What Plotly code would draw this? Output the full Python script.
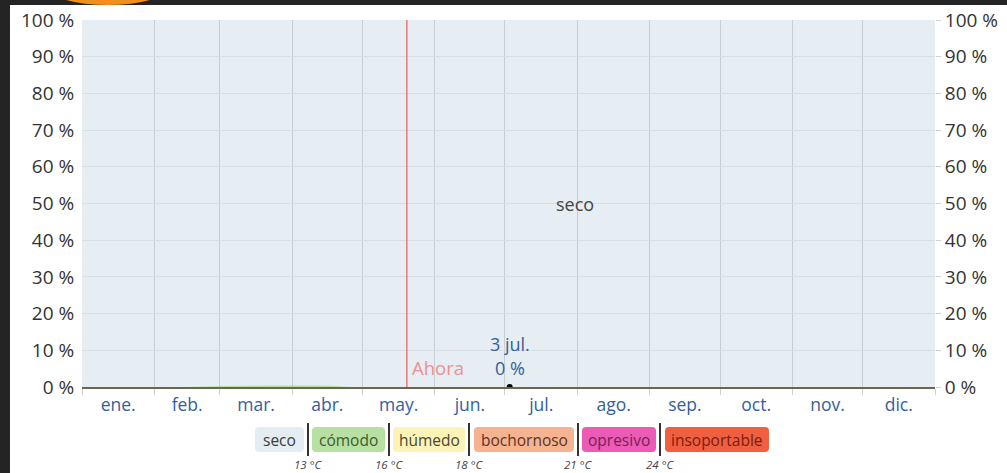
import plotly.graph_objects as go

# ---- data -------------------------------------------------------------
months = ["ene.", "feb.", "mar.", "abr.", "may.", "jun.",
          "jul.", "ago.", "sep.", "oct.", "nov.", "dic."]
month_len = [31, 28, 31, 30, 31, 30, 31, 31, 30, 31, 30, 31]

# day of year (0 = 1 ene.) and share of time (%) in each comfort band
day = [0, 31, 42, 59, 75, 90, 105, 116, 151, 181, 212, 243, 273, 304, 334, 365]
comodo = [0, 0, 0, 0.3, 0.5, 0.5, 0.4, 0, 0, 0, 0, 0, 0, 0, 0, 0]
humedo = [0] * 16
bochornoso = [0] * 16
opresivo = [0] * 16
insoportable = [0] * 16

now_day = 139          # 20 may.
focus_day = 183        # 3 jul.
focus_value = 0
y_ticks = [0, 10, 20, 30, 40, 50, 60, 70, 80, 90, 100]
thresholds = ["13 °C", "16 °C", "18 °C", "21 °C", "24 °C"]

# ---- derived ----------------------------------------------------------
bounds = [0]
for n in month_len:
    bounds.append(bounds[-1] + n)
mids = [(bounds[i] + bounds[i + 1]) / 2 for i in range(12)]
seco = [100 - (a + b + c + d + e) for a, b, c, d, e in
        zip(comodo, humedo, bochornoso, opresivo, insoportable)]

W, H = 1007, 473
L, R, T, B = 82, 935, 20, 387
FONT = "Open Sans"
BLUE = "#33609e"


def px(x):
    return (x - L) / (R - L)


def py(y):
    return (B - y) / (B - T)


fig = go.Figure()

bands = [
    ("cómodo", comodo, "rgba(120,200,90,0.55)"),
    ("húmedo", humedo, "rgba(250,235,120,0.6)"),
    ("bochornoso", bochornoso, "rgba(245,160,110,0.7)"),
    ("opresivo", opresivo, "rgba(230,70,170,0.7)"),
    ("insoportable", insoportable, "rgba(235,80,50,0.8)"),
    ("seco", seco, "rgba(188,210,224,0.37)"),
]
for name, vals, col in bands:
    fig.add_trace(go.Scatter(
        x=day, y=vals, name=name, stackgroup="h", mode="lines",
        line=dict(width=0), fillcolor=col, hoverinfo="skip",
        xaxis="x", yaxis="y"))

# marked day
fig.add_trace(go.Scatter(
    x=[focus_day], y=[focus_value], mode="markers",
    marker=dict(color="black", size=6), hoverinfo="skip",
    xaxis="x", yaxis="y"))

# carrier for the month labels and right-hand percentages
fig.add_trace(go.Scatter(x=[0, 365], y=[0, 100], mode="markers",
                         marker=dict(opacity=0), hoverinfo="skip",
                         xaxis="x2", yaxis="y2"))

pct = [f"{v} %" for v in y_ticks]

fig.update_layout(
    width=W, height=H,
    margin=dict(l=L, r=W - R, t=T, b=H - B, autoexpand=False),
    paper_bgcolor="white", plot_bgcolor="white",
    showlegend=False,
    font=dict(family=FONT, size=17, color="#333"),
    xaxis=dict(range=[0, 365], tickvals=bounds, showticklabels=False,
               showgrid=True, gridcolor="#cdcdcd", gridwidth=1,
               ticks="outside", ticklen=6, tickcolor="#cfcfcf",
               showline=True, linecolor="#66694f", linewidth=1.5,
               zeroline=False, fixedrange=True, automargin=False),
    xaxis2=dict(range=[0, 365], overlaying="x", side="bottom", anchor="y",
                tickvals=mids, ticktext=months, showgrid=False,
                ticks="outside", ticklen=2, tickcolor="rgba(0,0,0,0)",
                tickfont=dict(color=BLUE, size=17.5, family=FONT),
                showline=False, zeroline=False, automargin=False),
    yaxis=dict(range=[0, 100], tickvals=y_ticks, ticktext=pct,
               showgrid=True, gridcolor="#e8e8e8", zeroline=False,
               ticks="outside", ticklen=3, tickcolor="rgba(0,0,0,0)",
               tickfont=dict(color="#333", size=19, family=FONT),
               automargin=False),
    yaxis2=dict(range=[0, 100], overlaying="y", side="right", anchor="x",
                tickvals=y_ticks, ticktext=pct, showgrid=False,
                zeroline=False, ticks="outside", ticklen=5,
                tickcolor="#d0d0d0",
                tickfont=dict(color="#333", size=19, family=FONT),
                automargin=False),
)

# "now" marker line
fig.add_shape(type="line", xref="x", yref="paper", x0=now_day, x1=now_day,
              y0=0, y1=1, line=dict(color="#e57b7b", width=1.5),
              layer="above")
fig.add_annotation(x=now_day, y=0, xref="x", yref="y", text="Ahora",
                   showarrow=False, xanchor="left", yanchor="bottom",
                   xshift=3, yshift=5,
                   font=dict(color="#ee9090", size=18.5, family=FONT))

# focus day labels
fig.add_annotation(x=focus_day, y=focus_value, xref="x", yref="y",
                   text=f"{focus_value} %", showarrow=False,
                   xanchor="center", yanchor="bottom", yshift=5,
                   font=dict(color=BLUE, size=18, family=FONT))
fig.add_annotation(x=focus_day, y=focus_value, xref="x", yref="y",
                   text="3 jul.", showarrow=False,
                   xanchor="center", yanchor="bottom", yshift=29,
                   font=dict(color=BLUE, size=18, family=FONT))

# band name inside the area
fig.add_annotation(x=211, y=50, xref="x", yref="y", text="seco",
                   showarrow=False, xanchor="center", yanchor="middle",
                   font=dict(color="#444", size=18, family=FONT))


# ---- comfort legend ---------------------------------------------------
def rounded(x0, x1, y0, y1, r=4):
    ax0, ax1 = px(x0), px(x1)
    ay0, ay1 = py(y1), py(y0)
    rx = r / (R - L)
    ry = r / (B - T)
    return (f"M{ax0 + rx},{ay0} L{ax1 - rx},{ay0} Q{ax1},{ay0} {ax1},{ay0 + ry} "
            f"L{ax1},{ay1 - ry} Q{ax1},{ay1} {ax1 - rx},{ay1} "
            f"L{ax0 + rx},{ay1} Q{ax0},{ay1} {ax0},{ay1 - ry} "
            f"L{ax0},{ay0 + ry} Q{ax0},{ay0} {ax0 + rx},{ay0} Z")


legend = [
    ("seco", 255, 304, "#e4edf2", "#3a3a3a"),
    ("cómodo", 312, 385, "#b7e0a2", "#3d5c2c"),
    ("húmedo", 393, 465, "#fbf4b6", "#4a4636"),
    ("bochornoso", 474, 574, "#f6b391", "#5a3524"),
    ("opresivo", 582, 656, "#ea5cb6", "#7a1c5a"),
    ("insoportable", 665, 769, "#ef6040", "#7e1a0e"),
]
for name, a, b, bg, fg in legend:
    fig.add_shape(type="path", xref="paper", yref="paper",
                  path=rounded(a, b, 427, 452), fillcolor=bg,
                  line=dict(width=0), layer="above")
    fig.add_annotation(xref="paper", yref="paper", x=px((a + b) / 2),
                       y=py(439.5), text=name, showarrow=False,
                       xanchor="center", yanchor="middle",
                       font=dict(color=fg, size=15.5, family=FONT))

sep_x = [308, 389, 469, 578, 660]
for sx, lab in zip(sep_x, thresholds):
    fig.add_shape(type="line", xref="paper", yref="paper",
                  x0=px(sx), x1=px(sx), y0=py(456), y1=py(423),
                  line=dict(color="#333", width=2), layer="above")
    fig.add_annotation(xref="paper", yref="paper", x=px(sx), y=py(464.5),
                       text=f"<i>{lab}</i>", showarrow=False,
                       xanchor="center", yanchor="middle",
                       font=dict(color="#444", size=11.5, family=FONT))

# page frame
dark = "#242424"
fig.add_shape(type="rect", xref="paper", yref="paper",
              x0=px(-5), x1=px(W + 5), y0=py(5), y1=py(-5),
              fillcolor=dark, line=dict(width=0), layer="above")
fig.add_shape(type="rect", xref="paper", yref="paper",
              x0=px(-5), x1=px(10), y0=py(H + 5), y1=py(-5),
              fillcolor=dark, line=dict(width=0), layer="above")
fig.add_shape(type="circle", xref="paper", yref="paper",
              x0=px(48), x1=px(168), y0=py(5), y1=py(-30),
              fillcolor="#ef8f1e", line=dict(width=0), layer="above")

fig.write_html("out.html")
